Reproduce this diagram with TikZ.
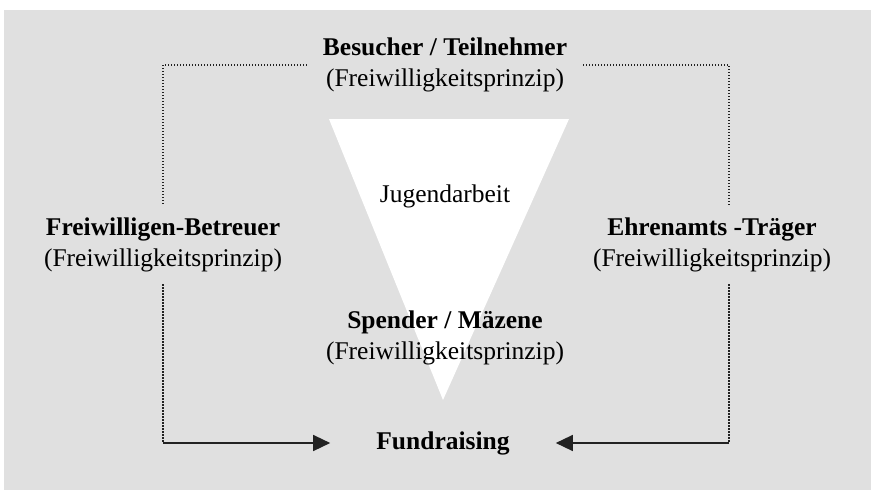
\documentclass[tikz,border=0pt]{standalone}
\usepackage{fontspec}
\setmainfont{Liberation Serif}
\usepackage{tikz}
\usetikzlibrary{arrows.meta, positioning}
\definecolor{bggray}{HTML}{E0E0E0}
\definecolor{linegray}{HTML}{222222}

\begin{document}
\begin{tikzpicture}[x=1pt,y=-1pt,>={Triangle[length=17pt,width=16pt]},
        every node/.style={font=\fontsize{25.5}{31}\selectfont, align=center, inner sep=12pt},
        role/.style={inner xsep=16pt},
        dotline/.style={draw=linegray, line width=1.2pt, dash pattern=on 1.2pt off 1.8pt},
        flow/.style={draw=linegray, line width=1.4pt, ->}]
        % \draw[help lines] (0,0) grid (871,490);
      \useasboundingbox (0,0) rectangle (871,490);
      \fill[bggray] (4,10) rectangle (871,490);
      \fill[white] (329,119) -- (569,119) -- (443,400) -- cycle;

      \node[role] (besucher)  at (445,65)  {\textbf{Besucher / Teilnehmer}\\(Freiwilligkeitsprinzip)};
      \node       (jugend)    at (445,196) {Jugendarbeit};
      \node[role] (betreuer)  at (163,245) {\textbf{Freiwilligen-Betreuer}\\(Freiwilligkeitsprinzip)};
      \node[role] (traeger)   at (712,245) {\textbf{Ehrenamts -Träger}\\(Freiwilligkeitsprinzip)};
      \node[role] (spender)   at (445,338) {\textbf{Spender / Mäzene}\\(Freiwilligkeitsprinzip)};
      \node[inner xsep=46pt] (fundraising) at (443,443) {\textbf{Fundraising}};

      \coordinate (rtop) at ([xshift=17pt]traeger.north);
      \coordinate (rbot) at ([xshift=17pt]traeger.south);
      \coordinate (lcorner) at (betreuer.south |- fundraising);
      \coordinate (rcorner) at (rbot |- fundraising);

      \draw[dotline] (besucher.west) -| (betreuer.north);
      \draw[dotline] (besucher.east) -| (rtop);
      \draw[dotline] (betreuer.south) -- (lcorner);
      \draw[dotline] (rbot) -- (rcorner);
      \draw[flow] (lcorner) -- (fundraising.west);
      \draw[flow] (rcorner) -- (fundraising.east);
    \end{tikzpicture}
\end{document}
